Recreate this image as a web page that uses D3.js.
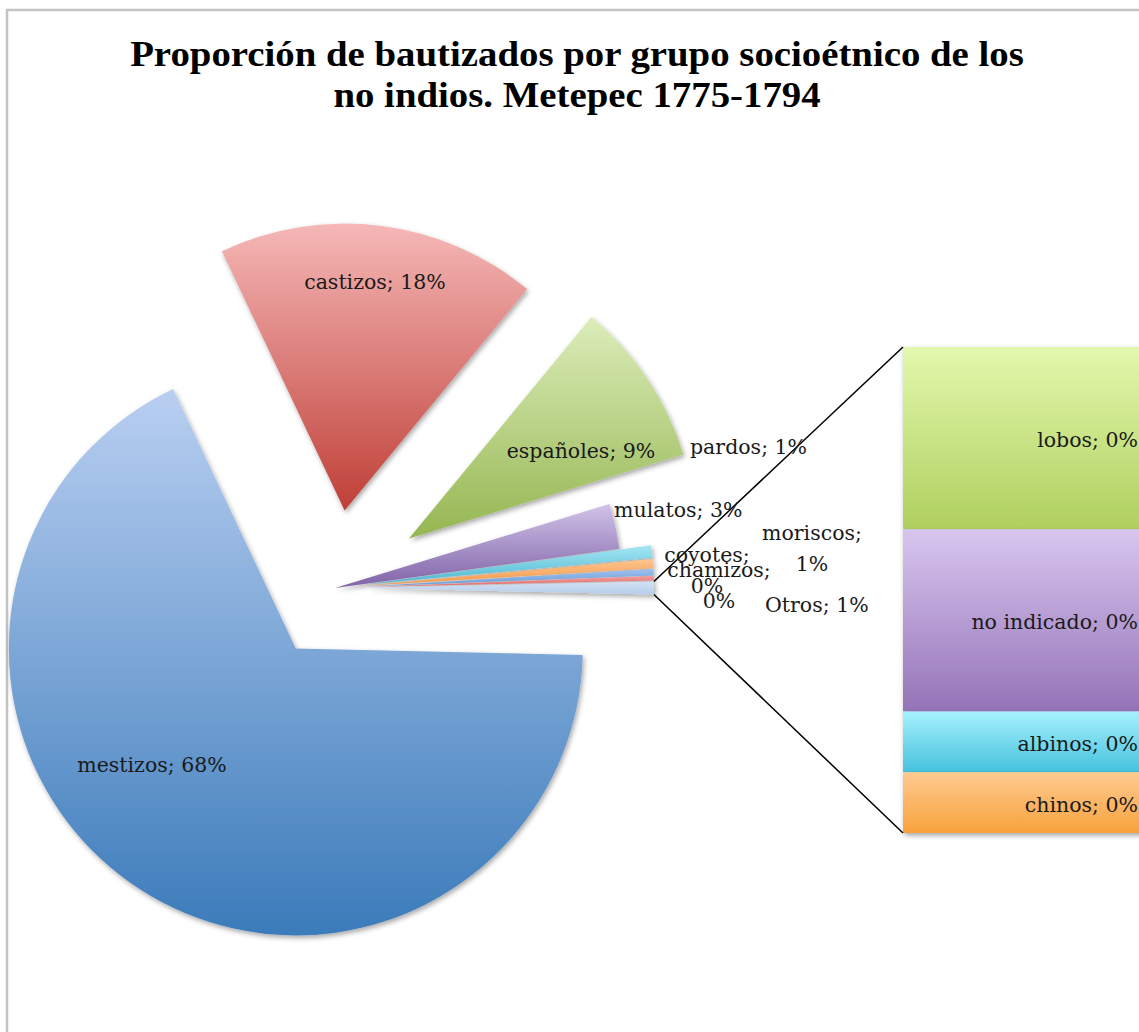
<!DOCTYPE html>
<html>
<head>
<meta charset="utf-8">
<script src="https://cdn.jsdelivr.net/npm/d3@7"></script>
<style>
  html, body { margin: 0; padding: 0; background: #fff; }
  svg { display: block; }
</style>
</head>
<body>
<svg id="chart" width="1139" height="1032"></svg>
<script>
// ---------- DATA (estimated shares, % of non-indian baptisms) ----------
const titleLines = ["Proporción de bautizados por grupo socioétnico de los", "no indios. Metepec 1775-1794"];
const pieCategories = ["mestizos", "castizos", "españoles", "mulatos", "pardos", "moriscos", "coyotes", "chamizos"];
const pieValues = [67.6, 18.0, 9.3, 2.55, 0.70, 0.52, 0.35, 0.25];
const otherLabel = "Otros";
const barCategories = ["lobos", "no indicado", "albinos", "chinos"];
const barValues = [0.27, 0.27, 0.09, 0.09];

// ---------- STYLE / LAYOUT ----------
const W = 1139, H = 1032;
const center = { x: 335, y: 588 };
const R = 287;
const explodePx = { "mestizos": 72, "castizos": 78, "españoles": 89, "mulatos": 0,
  "pardos": 32, "moriscos": 32, "coyotes": 32, "chamizos": 32, "Otros": 32 };
const gradColors = {
  "mestizos": ["#b9cff1", "#3b7bba"],
  "castizos": ["#f5b8b7", "#bf3f37"],
  "españoles": ["#dcedba", "#95b651"],
  "mulatos": ["#d0c3e8", "#8063a8"],
  "pardos": ["#a6e6f3", "#4cb9d3"],
  "moriscos": ["#fdc58f", "#f79a48"],
  "coyotes": ["#9cc0ec", "#6f9fde"],
  "chamizos": ["#f39b99", "#e46f6c"],
  "Otros": ["#d3e2f5", "#b6cdeb"],
  "lobos": ["#e3f8ad", "#afcf5e"],
  "no indicado": ["#d8c6ef", "#9473b7"],
  "albinos": ["#a6f1fd", "#45c2dd"],
  "chinos": ["#fdca90", "#f9a23d"]
};
const labelPos = {
  "mestizos": { x: 152, y: 772, anchor: "middle", two: false },
  "castizos": { x: 375, y: 289, anchor: "middle", two: false },
  "españoles": { x: 581, y: 458, anchor: "middle", two: false },
  "pardos": { x: 690, y: 454, anchor: "start", two: false },
  "mulatos": { x: 614, y: 517, anchor: "start", two: false },
  "moriscos": { x: 812, y: 540, anchor: "middle", two: true },
  "coyotes": { x: 707, y: 562, anchor: "middle", two: true },
  "chamizos": { x: 719, y: 577, anchor: "middle", two: true },
  "Otros": { x: 765, y: 612, anchor: "start", two: false }
};
const bar = { x: 903, top: 347, bottom: 833, width: 360 };
const labelFont = "'DejaVu Serif', 'Liberation Serif', serif";
const labelSize = 20.5;

// ---------- BUILD ----------
const svg = d3.select("#chart");
const defs = svg.append("defs");

const shadow = defs.append("filter").attr("id", "shadow")
  .attr("filterUnits", "userSpaceOnUse")
  .attr("x", -2000).attr("y", -2000).attr("width", 5000).attr("height", 5000);
shadow.append("feDropShadow").attr("dx", 1.5).attr("dy", 2.5)
  .attr("stdDeviation", 2.5).attr("flood-color", "#000").attr("flood-opacity", 0.35);

const keys = Object.keys(gradColors);
keys.forEach((k, i) => {
  const g = defs.append("linearGradient").attr("id", "grad" + i)
    .attr("x1", 0).attr("y1", 0).attr("x2", 0).attr("y2", 1);
  g.append("stop").attr("offset", "0%").attr("stop-color", gradColors[k][0]);
  g.append("stop").attr("offset", "100%").attr("stop-color", gradColors[k][1]);
});
const gradUrl = name => `url(#grad${keys.indexOf(name)})`;

// frame
svg.append("rect").attr("x", 7).attr("y", 10).attr("width", 1300).attr("height", 1200)
  .attr("fill", "#fff").attr("stroke", "#c3c3c3").attr("stroke-width", 2.5);

// title
const titleG = svg.append("g").attr("transform", `translate(577,0)`);
const titleInner = titleG.append("g");
const tl = titleLines.map((t, i) => titleInner.append("text")
  .attr("x", 0).attr("y", i === 0 ? 66 : 107)
  .attr("text-anchor", "middle")
  .attr("font-family", "'Liberation Serif', serif")
  .attr("font-weight", "bold").attr("font-size", 36)
  .attr("fill", "#000").text(t));
const natural = tl[0].node().getComputedTextLength();
titleInner.attr("transform", `scale(${894 / natural},1)`);

// pie
const slices = pieCategories.map((c, i) => ({ name: c, value: pieValues[i] }))
  .concat([{ name: otherLabel, value: d3.sum(barValues), other: true }]);
const total = d3.sum(slices, d => d.value);
const otherAngle = d3.sum(barValues) / total * 2 * Math.PI;
const start = Math.PI / 2 + otherAngle / 2;
const pie = d3.pie().sort(null).value(d => d.value).startAngle(start).endAngle(start + 2 * Math.PI);
const arcs = pie(slices);
const arc = d3.arc().innerRadius(0).outerRadius(R);

function offset(d) {
  const mid = (d.startAngle + d.endAngle) / 2;
  const e = explodePx[d.data.name] || 0;
  return [center.x + e * Math.sin(mid), center.y - e * Math.cos(mid)];
}

const pieG = svg.append("g");
pieG.selectAll("path").data(arcs).join("path")
  .attr("transform", d => `translate(${offset(d)})`)
  .attr("d", arc)
  .attr("fill", d => gradUrl(d.data.name))
  .attr("filter", "url(#shadow)");

// bar of "Otros"
const y = d3.scaleLinear().domain([0, d3.sum(barValues)]).range([bar.top, bar.bottom]);
const cum = d3.cumsum(barValues);
const barData = barCategories.map((c, i) => ({ name: c, value: barValues[i], y0: cum[i] - barValues[i], y1: cum[i] }));
const barG = svg.append("g");
barG.selectAll("rect").data(barData).join("rect")
  .attr("x", bar.x).attr("width", bar.width)
  .attr("y", d => y(d.y0)).attr("height", d => y(d.y1) - y(d.y0))
  .attr("fill", d => gradUrl(d.name))
  .attr("filter", "url(#shadow)");

// connector lines
const otherArc = arcs[arcs.length - 1];
const [ox, oy] = offset(otherArc);
const pUpper = [ox + R * Math.sin(otherArc.startAngle), oy - R * Math.cos(otherArc.startAngle)];
const pLower = [ox + R * Math.sin(otherArc.endAngle), oy - R * Math.cos(otherArc.endAngle)];
svg.append("line").attr("x1", pUpper[0]).attr("y1", pUpper[1]).attr("x2", bar.x).attr("y2", y(0))
  .attr("stroke", "#000").attr("stroke-width", 1.5);
svg.append("line").attr("x1", pLower[0]).attr("y1", pLower[1]).attr("x2", bar.x).attr("y2", y(d3.sum(barValues)))
  .attr("stroke", "#000").attr("stroke-width", 1.5);

// labels
const pct = v => Math.round(v / total * 100) + "%";
const labG = svg.append("g").attr("font-family", labelFont).attr("font-size", labelSize).attr("fill", "#1a1a1a");
arcs.forEach(d => {
  const p = labelPos[d.data.name];
  const t = labG.append("text").attr("x", p.x).attr("y", p.y).attr("text-anchor", p.anchor);
  if (p.two) {
    t.append("tspan").attr("x", p.x).text(d.data.name + ";");
    t.append("tspan").attr("x", p.x).attr("dy", 31).text(pct(d.data.value));
  } else {
    t.text(d.data.name + "; " + pct(d.data.value));
  }
});
barData.forEach(d => {
  labG.append("text").attr("x", 1138).attr("y", (y(d.y0) + y(d.y1)) / 2 + 9)
    .attr("text-anchor", "end").text(d.name + "; " + pct(d.value));
});
</script>
</body>
</html>
